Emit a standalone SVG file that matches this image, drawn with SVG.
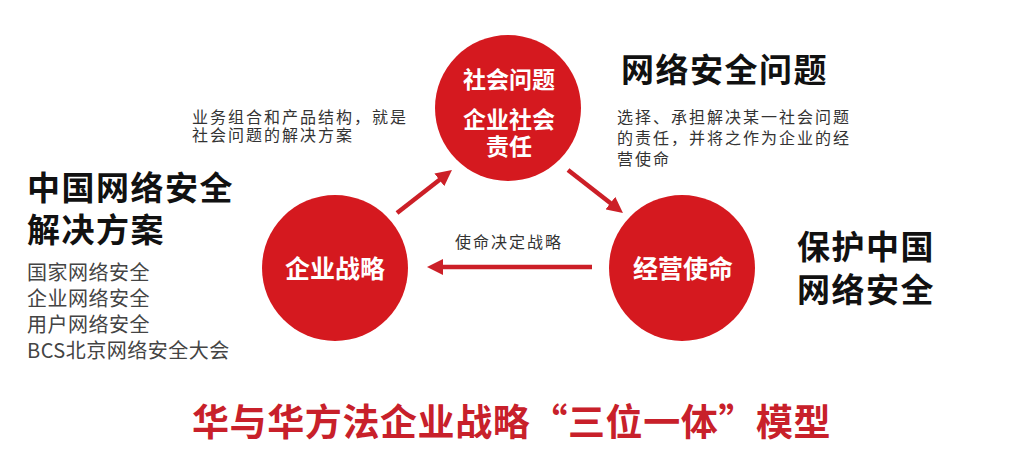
<svg xmlns="http://www.w3.org/2000/svg" width="1024" height="461" viewBox="0 0 1024 461">
<defs>
<style>
text{font-family:"Noto Sans CJK SC","Noto Sans",sans-serif;}
.node{fill:#d5191f;}
.nt{fill:#ffffff;font-weight:bold;text-anchor:middle;}
.big{fill:#111111;font-weight:bold;font-size:33px;letter-spacing:1.5px;}
.small{fill:#333333;font-size:16px;letter-spacing:2px;}
.list{fill:#444444;font-size:20px;letter-spacing:0.5px;}
.conn{stroke:#cc1f27;stroke-width:4.5;fill:none;marker-end:url(#ah);}
.title{fill:#c8202a;font-weight:bold;font-size:37px;letter-spacing:0.6px;}
</style>
<marker id="ah" markerUnits="userSpaceOnUse" markerWidth="18" markerHeight="16" refX="4" refY="8" orient="auto">
<path d="M0,0 L16,8 L0,16 z" fill="#cc1f27"/>
</marker>
</defs>
<rect width="1024" height="461" fill="#ffffff"/>
<g id="connectors">
<line class="conn" x1="397" y1="213" x2="442.5" y2="177.4"/>
<line class="conn" x1="568" y1="170" x2="613.5" y2="205.6"/>
<line class="conn" x1="592" y1="267" x2="439" y2="267"/>
<text class="small" x="455" y="248">使命决定战略</text>
</g>
<g id="node-social">
<circle class="node" cx="508" cy="108" r="73"/>
<text class="nt" x="509" y="88" font-size="23">社会问题</text>
<text class="nt" x="509" y="128" font-size="23">企业社会</text>
<text class="nt" x="509" y="155" font-size="23">责任</text>
</g>
<g id="node-strategy">
<circle class="node" cx="335" cy="268" r="73"/>
<text class="nt" x="335" y="278" font-size="25">企业战略</text>
</g>
<g id="node-mission">
<circle class="node" cx="682" cy="268" r="73"/>
<text class="nt" x="683" y="278" font-size="25">经营使命</text>
</g>
<g id="label-left-top">
<text class="small" x="192" y="123">业务组合和产品结构，就是</text>
<text class="small" x="192" y="141">社会问题的解决方案</text>
</g>
<g id="label-right-top">
<text class="big" x="621" y="82">网络安全问题</text>
<text class="small" x="617" y="123">选择、承担解决某一社会问题</text>
<text class="small" x="617" y="144">的责任，并将之作为企业的经</text>
<text class="small" x="617" y="165">营使命</text>
</g>
<g id="label-left">
<text class="big" x="27" y="200">中国网络安全</text>
<text class="big" x="27" y="242">解决方案</text>
<text class="list" x="27" y="280">国家网络安全</text>
<text class="list" x="27" y="306">企业网络安全</text>
<text class="list" x="27" y="332">用户网络安全</text>
<text class="list" x="27" y="358">BCS北京网络安全大会</text>
</g>
<g id="label-right">
<text class="big" x="797" y="259">保护中国</text>
<text class="big" x="797" y="302">网络安全</text>
</g>
<g id="title">
<text class="title" x="192" y="436">华与华方法企业战略“三位一体”模型</text>
</g>
</svg>
